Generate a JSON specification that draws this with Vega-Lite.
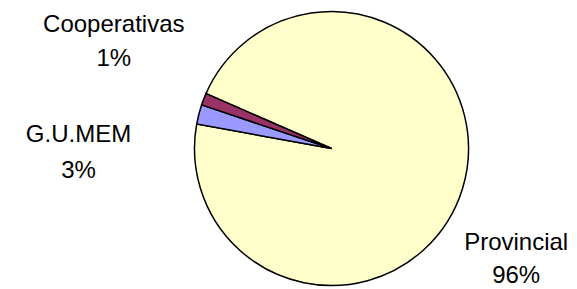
{
  "$schema": "https://vega.github.io/schema/vega-lite/v6.json",
  "autosize": "none",
  "width": 491,
  "height": 281,
  "padding": {"left": 86, "top": 8, "right": 0, "bottom": 0},
  "background": "white",
  "view": {"stroke": null},
  "data": {
    "values": [
      {"Fuente": "Provincial", "valor": 96.3, "etiqueta": "Provincial\n96%"},
      {"Fuente": "G.U.MEM", "valor": 2.3, "etiqueta": "G.U.MEM\n3%"},
      {"Fuente": "Cooperativas", "valor": 1.4, "etiqueta": "Cooperativas\n1%"}
    ]
  },
  "encoding": {
    "theta": {"field": "valor", "type": "quantitative", "stack": true, "scale": {"range": [5.1246, 11.4078]}},
    "order": {"field": "valor", "type": "quantitative", "sort": "descending"}
  },
  "layer": [
    {
      "mark": {"type": "arc", "stroke": "black", "strokeWidth": 1.5, "strokeJoin": "miter"},
      "encoding": {
        "color": {
          "field": "Fuente",
          "type": "nominal",
          "scale": {"domain": ["Provincial", "G.U.MEM", "Cooperativas"], "range": ["#FFFFCC", "#9999FF", "#993366"]},
          "legend": null
        },
        "radius": {"condition": {"test": "datum.Fuente !== 'Provincial'", "value": 142}, "value": 137}
      }
    },
    {
      "mark": {"type": "text", "radius": 243, "dx": 9, "dy": -29, "font": "Liberation Sans", "fontSize": 24, "lineBreak": "\n", "lineHeight": 34, "align": "center", "baseline": "alphabetic", "color": "black"},
      "encoding": {
        "text": {"condition": {"test": "datum.Fuente === 'Cooperativas'", "field": "etiqueta"}, "value": ""}
      }
    },
    {
      "mark": {"type": "text", "radius": 254, "dx": -7, "dy": 57, "font": "Liberation Sans", "fontSize": 24, "lineBreak": "\n", "lineHeight": 36, "align": "center", "baseline": "alphabetic", "color": "black"},
      "encoding": {
        "text": {"condition": {"test": "datum.Fuente === 'G.U.MEM'", "field": "etiqueta"}, "value": ""}
      }
    },
    {
      "mark": {"type": "text", "radius": 215, "dx": -21, "dy": 39, "font": "Liberation Sans", "fontSize": 24, "lineBreak": "\n", "lineHeight": 33, "align": "center", "baseline": "alphabetic", "color": "black"},
      "encoding": {
        "text": {"condition": {"test": "datum.Fuente === 'Provincial'", "field": "etiqueta"}, "value": ""}
      }
    }
  ]
}
